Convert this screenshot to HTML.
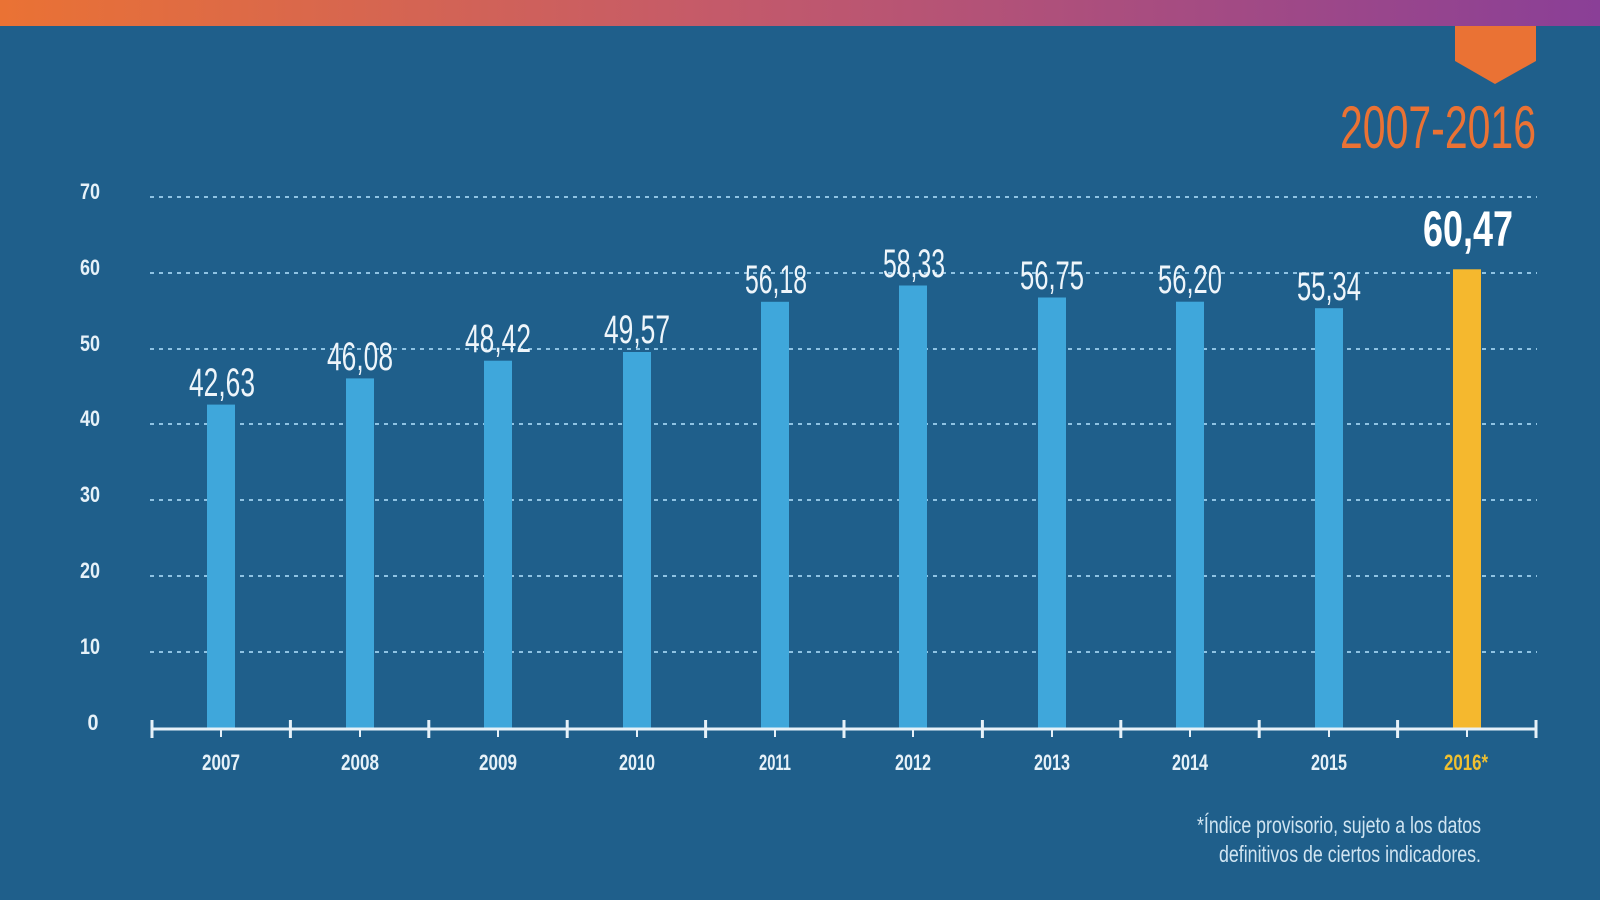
<!DOCTYPE html>
<html><head><meta charset="utf-8"><style>
html,body{margin:0;padding:0;background:#1f5f8b;}
svg{display:block}
text{font-family:"Liberation Sans Narrow","Liberation Sans",sans-serif;}
</style></head><body>
<svg width="1600" height="900" viewBox="0 0 1600 900" xmlns="http://www.w3.org/2000/svg">
<defs>
<linearGradient id="tg" x1="0" x2="1" y1="0" y2="0">
<stop offset="0" stop-color="#ea7234"/><stop offset="0.45" stop-color="#c45a6a"/><stop offset="1" stop-color="#8a3f97"/>
</linearGradient>
</defs>
<rect width="1600" height="900" fill="#1f5f8b"/>
<rect width="1600" height="26" fill="url(#tg)"/>
<polygon points="1455,26 1536,26 1536,61 1495,84 1455,61" fill="#ea7234"/>
<text x="1438" y="148" font-size="60" fill="#ea7234" text-anchor="middle" textLength="196" lengthAdjust="spacingAndGlyphs">2007-2016</text>

<g stroke="#8fc3e3" stroke-width="2" stroke-dasharray="4 5">
<line x1="150" x2="1537" y1="197" y2="197"/>
<line x1="150" x2="1537" y1="273" y2="273"/>
<line x1="150" x2="1537" y1="349" y2="349"/>
<line x1="150" x2="1537" y1="424" y2="424"/>
<line x1="150" x2="1537" y1="500" y2="500"/>
<line x1="150" x2="1537" y1="576" y2="576"/>
<line x1="150" x2="1537" y1="652" y2="652"/>
</g>
<g fill="#e6f1f8" font-size="22" font-weight="bold" text-anchor="middle">
<text x="90" y="199" textLength="20" lengthAdjust="spacingAndGlyphs">70</text>
<text x="90" y="275" textLength="20" lengthAdjust="spacingAndGlyphs">60</text>
<text x="90" y="351" textLength="20" lengthAdjust="spacingAndGlyphs">50</text>
<text x="90" y="426" textLength="20" lengthAdjust="spacingAndGlyphs">40</text>
<text x="90" y="502" textLength="20" lengthAdjust="spacingAndGlyphs">30</text>
<text x="90" y="578" textLength="20" lengthAdjust="spacingAndGlyphs">20</text>
<text x="90" y="654" textLength="20" lengthAdjust="spacingAndGlyphs">10</text>
<text x="93" y="730" textLength="11" lengthAdjust="spacingAndGlyphs">0</text>
</g>

<g fill="#3fa7db">
<rect x="207" y="404.6" width="28" height="323.4"/>
<rect x="346" y="378.4" width="28" height="349.6"/>
<rect x="484" y="360.7" width="28" height="367.3"/>
<rect x="623" y="352" width="28" height="376"/>
<rect x="761" y="301.8" width="28" height="426.2"/>
<rect x="899" y="285.5" width="28" height="442.5"/>
<rect x="1038" y="297.5" width="28" height="430.5"/>
<rect x="1176" y="301.7" width="28" height="426.3"/>
<rect x="1315" y="308.2" width="28" height="419.8"/>
</g>
<rect x="1453" y="269.3" width="28" height="458.7" fill="#f5b82e"/>

<g fill="#eef5fa" font-size="40" text-anchor="middle">
<text x="222" y="396" textLength="66" lengthAdjust="spacingAndGlyphs">42,63</text>
<text x="360" y="370" textLength="66" lengthAdjust="spacingAndGlyphs">46,08</text>
<text x="498" y="352" textLength="66" lengthAdjust="spacingAndGlyphs">48,42</text>
<text x="637" y="343" textLength="66" lengthAdjust="spacingAndGlyphs">49,57</text>
<text x="776" y="293" textLength="62" lengthAdjust="spacingAndGlyphs">56,18</text>
<text x="914" y="277" textLength="62" lengthAdjust="spacingAndGlyphs">58,33</text>
<text x="1052" y="289" textLength="64" lengthAdjust="spacingAndGlyphs">56,75</text>
<text x="1190" y="293" textLength="64" lengthAdjust="spacingAndGlyphs">56,20</text>
<text x="1329" y="300" textLength="64" lengthAdjust="spacingAndGlyphs">55,34</text>
<text x="1468" y="246" font-size="50" font-weight="bold" fill="#ffffff" textLength="90" lengthAdjust="spacingAndGlyphs">60,47</text>
</g>

<g stroke="#e6f1f8" stroke-width="3">
<line x1="151" x2="1537" y1="729" y2="729"/>
<line x1="152" x2="152" y1="720" y2="738"/>
<line x1="290.4" x2="290.4" y1="720" y2="738"/>
<line x1="428.8" x2="428.8" y1="720" y2="738"/>
<line x1="567.2" x2="567.2" y1="720" y2="738"/>
<line x1="705.6" x2="705.6" y1="720" y2="738"/>
<line x1="844" x2="844" y1="720" y2="738"/>
<line x1="982.4" x2="982.4" y1="720" y2="738"/>
<line x1="1120.8" x2="1120.8" y1="720" y2="738"/>
<line x1="1259.2" x2="1259.2" y1="720" y2="738"/>
<line x1="1397.6" x2="1397.6" y1="720" y2="738"/>
<line x1="1536" x2="1536" y1="720" y2="738"/>
<g stroke-width="2">
<line x1="221" x2="221" y1="729" y2="737"/>
<line x1="360" x2="360" y1="729" y2="737"/>
<line x1="498" x2="498" y1="729" y2="737"/>
<line x1="637" x2="637" y1="729" y2="737"/>
<line x1="775" x2="775" y1="729" y2="737"/>
<line x1="913" x2="913" y1="729" y2="737"/>
<line x1="1052" x2="1052" y1="729" y2="737"/>
<line x1="1190" x2="1190" y1="729" y2="737"/>
<line x1="1329" x2="1329" y1="729" y2="737"/>
<line x1="1467" x2="1467" y1="729" y2="737"/>
</g>
</g>

<g fill="#e6f1f8" font-size="22" font-weight="bold" text-anchor="middle">
<text x="221" y="770" textLength="38" lengthAdjust="spacingAndGlyphs">2007</text>
<text x="360" y="770" textLength="38" lengthAdjust="spacingAndGlyphs">2008</text>
<text x="498" y="770" textLength="38" lengthAdjust="spacingAndGlyphs">2009</text>
<text x="637" y="770" textLength="36" lengthAdjust="spacingAndGlyphs">2010</text>
<text x="775" y="770" textLength="32" lengthAdjust="spacingAndGlyphs">2011</text>
<text x="913" y="770" textLength="36" lengthAdjust="spacingAndGlyphs">2012</text>
<text x="1052" y="770" textLength="36" lengthAdjust="spacingAndGlyphs">2013</text>
<text x="1190" y="770" textLength="36" lengthAdjust="spacingAndGlyphs">2014</text>
<text x="1329" y="770" textLength="36" lengthAdjust="spacingAndGlyphs">2015</text>
<text x="1466" y="770" fill="#f0c030" textLength="44" lengthAdjust="spacingAndGlyphs">2016*</text>
</g>

<g fill="#cfe4f1" font-size="23" text-anchor="end">
<text x="1481" y="833" textLength="284" lengthAdjust="spacingAndGlyphs">*Índice provisorio, sujeto a los datos</text>
<text x="1481" y="862" textLength="262" lengthAdjust="spacingAndGlyphs">definitivos de ciertos indicadores.</text>
</g>
</svg>
</body></html>
